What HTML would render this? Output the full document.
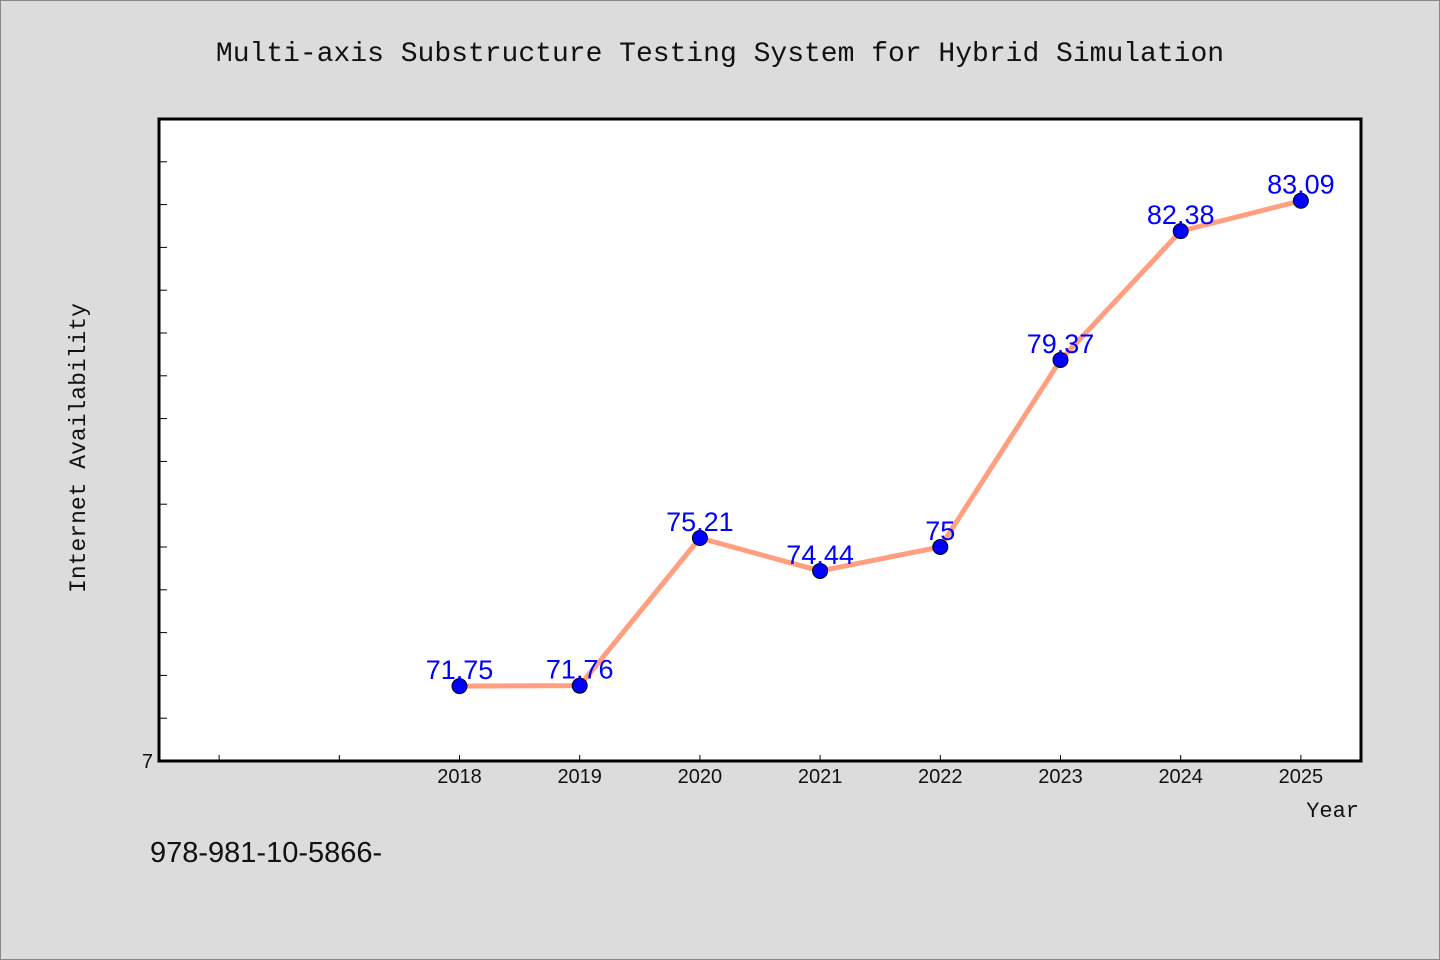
<!DOCTYPE html>
<html><head><meta charset="utf-8"><style>
body{margin:0;background:#dcdcdc;}
svg{display:block;}
</style></head><body>
<svg width="1440" height="960" xmlns="http://www.w3.org/2000/svg">
<rect x="0.5" y="0.5" width="1439" height="959" fill="#dcdcdc" stroke="#888"/>
<text x="720" y="61" text-anchor="middle" font-family="Liberation Mono, monospace" font-size="28" fill="#111">Multi-axis Substructure Testing System for Hybrid Simulation</text>
<rect x="159" y="119" width="1202" height="642" fill="#fff" stroke="#000" stroke-width="3"/>
<text transform="translate(85,448) rotate(-90)" text-anchor="middle" font-family="Liberation Mono, monospace" font-size="23" fill="#111">Internet Availability</text>
<text x="1359" y="817" text-anchor="end" font-family="Liberation Mono, monospace" font-size="22" fill="#111">Year</text>
<text x="150" y="862" font-family="Liberation Sans, sans-serif" font-size="29" fill="#111">978-981-10-5866-</text>
<text x="153" y="768" text-anchor="end" font-family="Liberation Sans, sans-serif" font-size="20" fill="#111">7</text>
<g id="axes"></g>
<g id="marks"></g>
</svg>
<script>
const years=[2018,2019,2020,2021,2022,2023,2024,2025];
const values=[71.75,71.76,75.21,74.44,75,79.37,82.38,83.09];
const labels=["71.75","71.76","75.21","74.44","75","79.37","82.38","83.09"];
const xTicks=[2016,2017,2018,2019,2020,2021,2022,2023,2024,2025];
const yTicks=[70,71,72,73,74,75,76,77,78,79,80,81,82,83,84];
const L=159,R=1361,T=119,B=761,x0=2015.5,x1=2025.5,y0=70,y1=85;
const NS="http://www.w3.org/2000/svg";
function sx(v){return L+(v-x0)/(x1-x0)*(R-L);}
function sy(v){return B-(v-y0)/(y1-y0)*(B-T);}
function mk(t,a,p){const e=document.createElementNS(NS,t);for(const k in a)e.setAttribute(k,a[k]);p.appendChild(e);return e;}
const ax=document.getElementById('axes'),mg=document.getElementById('marks');
yTicks.forEach(v=>{const l=mk('line',{x1:L,x2:L+8,y1:sy(v),y2:sy(v),stroke:'#000','stroke-width':1},ax);

});
xTicks.forEach(v=>{const l=mk('line',{x1:sx(v),x2:sx(v),y1:B,y2:B-6,stroke:'#000','stroke-width':1},ax);

});
years.forEach(v=>{const t=mk('text',{x:sx(v),y:B+22,'text-anchor':'middle','font-family':'Liberation Sans, sans-serif','font-size':20,fill:'#111'},ax);t.textContent=v;

});
const pl=mk('polyline',{points:years.map((y,i)=>sx(y)+','+sy(values[i])).join(' '),fill:'none',stroke:'#ff9f7f','stroke-width':5,'stroke-linejoin':'round'},mg);


years.forEach((y,i)=>{const c=mk('circle',{cx:sx(y),cy:sy(values[i]),r:7.5,fill:'#0000ff',stroke:'#000','stroke-width':1},mg);


const t=mk('text',{x:sx(y),y:sy(values[i])-7,'text-anchor':'middle','font-family':'Liberation Sans, sans-serif','font-size':27,fill:'#0000ff'},mg);t.textContent=labels[i];

});
</script>
</body></html>
